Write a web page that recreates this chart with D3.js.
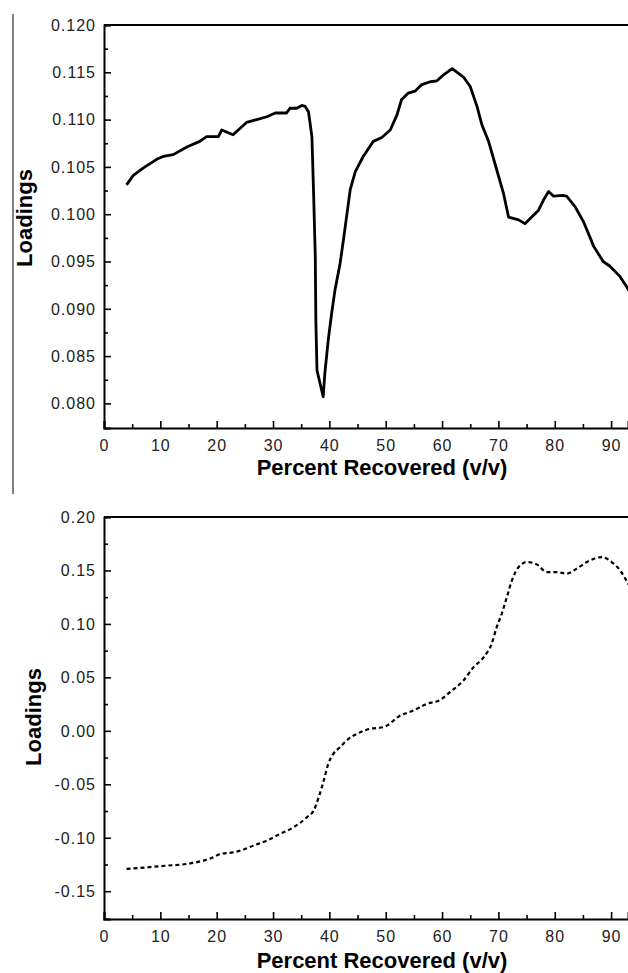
<!DOCTYPE html>
<html>
<head>
<meta charset="utf-8">
<script src="https://cdn.jsdelivr.net/npm/d3@7"></script>
<style>
  html, body { margin: 0; padding: 0; background: #fff; }
  svg { display: block; }
  .tick-label { font-family: "Liberation Sans", Arial, sans-serif; font-size: 16px; fill: #222; letter-spacing: 1px; }
  .axis-title { font-family: "Liberation Sans", Arial, sans-serif; font-size: 22px; font-weight: bold; fill: #000; }
</style>
</head>
<body>
<script>
// ---- Data ----
const xTicks = [0, 10, 20, 30, 40, 50, 60, 70, 80, 90];
const xMinorTicks = [5, 15, 25, 35, 45, 55, 65, 75, 85];

const topYTicks = [0.080, 0.085, 0.090, 0.095, 0.100, 0.105, 0.110, 0.115, 0.120];
const topYMinor = [0.0825, 0.0875, 0.0925, 0.0975, 0.1025, 0.1075, 0.1125, 0.1175];
const bottomYTicks = [-0.15, -0.10, -0.05, 0.00, 0.05, 0.10, 0.15, 0.20];
const bottomYMinor = [-0.125, -0.075, -0.025, 0.025, 0.075, 0.125, 0.175];

// Top panel: solid line (percent recovered, loading)
const topX = [4.0, 5.2, 7.0, 9.35, 10.5, 12.3, 14.7, 17.0, 18.2, 20.3, 20.9, 22.9, 25.3, 27.1, 28.9, 30.4, 32.4, 33.0, 34.2, 35.1, 35.7, 36.3, 36.9, 37.2, 37.5, 37.6, 37.8, 38.9, 39.2, 39.8, 40.4, 41.0, 41.9, 42.5, 43.7, 44.6, 46.0, 47.8, 49.3, 50.8, 52.0, 52.8, 54.0, 55.2, 56.4, 57.9, 59.1, 60.2, 61.8, 63.8, 65.0, 66.2, 67.1, 68.2, 69.7, 70.9, 71.8, 73.6, 74.7, 75.9, 77.1, 78.0, 78.9, 79.8, 81.5, 82.1, 83.6, 85.1, 86.3, 86.9, 88.6, 89.8, 91.6, 92.8, 93.5];
const topY = [0.1031, 0.1041, 0.1049, 0.1058, 0.1061, 0.1063, 0.1071, 0.1077, 0.1082, 0.1082, 0.1089, 0.1084, 0.1097, 0.1100, 0.1103, 0.1107, 0.1107, 0.1112, 0.1112, 0.1115, 0.1114, 0.1108, 0.1082, 0.1022, 0.0955, 0.0888, 0.0835, 0.0807, 0.0832, 0.0867, 0.0895, 0.0920, 0.0948, 0.0973, 0.1026, 0.1045, 0.1061, 0.1077, 0.1081, 0.1089, 0.1105, 0.1121, 0.1128, 0.1130, 0.1137, 0.1140, 0.1141, 0.1147, 0.1154, 0.1145, 0.1135, 0.1114, 0.1094, 0.1078, 0.1047, 0.1022, 0.0997, 0.0994, 0.0990, 0.0997, 0.1004, 0.1015, 0.1024, 0.1019, 0.1020, 0.1019, 0.1008, 0.0992, 0.0975, 0.0966, 0.0950, 0.0945, 0.0934, 0.0923, 0.0916];

// Bottom panel: dashed line
const botX = [4.0, 7.6, 11.1, 14.7, 17.6, 19.4, 20.6, 22.9, 24.2, 26.5, 28.9, 31.2, 33.6, 36.0, 37.2, 38.1, 39.0, 39.8, 40.7, 41.9, 43.4, 44.9, 47.2, 49.6, 52.6, 54.9, 57.3, 59.7, 61.4, 63.8, 65.6, 67.4, 68.8, 69.7, 70.6, 71.5, 72.4, 73.6, 75.1, 76.8, 78.6, 80.4, 82.1, 83.9, 85.7, 88.3, 90.1, 91.6, 92.7, 93.5];
const botY = [-0.1292, -0.1277, -0.1261, -0.1245, -0.1214, -0.1183, -0.1152, -0.1137, -0.1121, -0.1074, -0.1027, -0.0965, -0.0903, -0.0809, -0.0746, -0.0622, -0.0465, -0.0309, -0.0216, -0.0153, -0.0075, -0.0028, 0.0019, 0.0034, 0.0143, 0.0190, 0.0253, 0.0290, 0.0362, 0.0471, 0.0596, 0.0689, 0.0815, 0.0970, 0.1095, 0.1251, 0.1407, 0.1532, 0.1579, 0.1557, 0.1485, 0.1485, 0.1470, 0.1517, 0.1579, 0.1625, 0.1579, 0.1501, 0.1407, 0.1330];

const xTitle = "Percent Recovered (v/v)";
const yTitle = "Loadings";

// ---- Drawing ----
const W = 628, H = 973;
const svg = d3.select("body").append("svg").attr("width", W).attr("height", H);

// thin gray vertical rule at the far left
svg.append("line").attr("x1", 13).attr("x2", 13).attr("y1", 14).attr("y2", 494)
  .attr("stroke", "#808080").attr("stroke-width", 2);

const x = d3.scaleLinear().domain([0, 93]).range([104, 628]);

function panel(opts) {
  const y = d3.scaleLinear().domain(opts.yDomain).range([opts.yBottom, opts.yTop]);
  const g = svg.append("g");
  const clipId = "clip" + opts.id;
  svg.append("clipPath").attr("id", clipId).append("rect")
    .attr("x", 104).attr("y", opts.yTop - 5).attr("width", 628 - 104).attr("height", opts.yBottom - opts.yTop + 10);

  // line
  const data = opts.xs.map((d, i) => [d, opts.ys[i]]);
  const line = d3.line().x(d => x(d[0])).y(d => y(d[1])).curve(opts.curve);
  const path = g.append("path").datum(data)
    .attr("clip-path", `url(#${clipId})`)
    .attr("d", line).attr("fill", "none").attr("stroke", "#000")
    .attr("stroke-width", opts.sw).attr("stroke-linejoin", "round");
  if (opts.dash) path.attr("stroke-dasharray", opts.dash);

  // frame: left axis, bottom axis, top border
  g.append("line").attr("x1", 104).attr("x2", 628).attr("y1", opts.yTop).attr("y2", opts.yTop)
    .attr("stroke", "#000").attr("stroke-width", 2);

  const yAxis = d3.axisRight(y).tickValues(opts.yTicks).tickSize(7).tickFormat("");
  g.append("g").attr("transform", "translate(104,0)").call(yAxis)
    .call(s => s.select(".domain").attr("stroke-width", 2))
    .call(s => s.selectAll(".tick line").attr("stroke-width", 1.6));
  const yMinor = d3.axisRight(y).tickValues(opts.yMinor).tickSize(4).tickFormat("");
  g.append("g").attr("transform", "translate(104,0)").call(yMinor)
    .call(s => s.select(".domain").remove())
    .call(s => s.selectAll(".tick line").attr("stroke-width", 1.6));

  const xAxis = d3.axisTop(x).tickValues(xTicks).tickSize(7).tickFormat("");
  g.append("g").attr("transform", `translate(0,${opts.yBottom})`).call(xAxis)
    .call(s => s.select(".domain").attr("stroke-width", 2))
    .call(s => s.selectAll(".tick line").attr("stroke-width", 1.6));
  const xMinor = d3.axisTop(x).tickValues(xMinorTicks).tickSize(4).tickFormat("");
  g.append("g").attr("transform", `translate(0,${opts.yBottom})`).call(xMinor)
    .call(s => s.select(".domain").remove())
    .call(s => s.selectAll(".tick line").attr("stroke-width", 1.6));

  // tick labels
  g.selectAll(".ylab").data(opts.yTicks).enter().append("text")
    .attr("class", "tick-label").attr("text-anchor", "end")
    .attr("x", 96).attr("y", d => y(d)).attr("dy", "0.36em")
    .text(d => d3.format(opts.yFmt)(d).replace("−", "-"));
  g.selectAll(".xlab").data(xTicks).enter().append("text")
    .attr("class", "tick-label").attr("text-anchor", "middle")
    .attr("x", d => x(d) + 0.5).attr("y", opts.yBottom + 12).attr("dy", "0.71em")
    .text(d => d);

  // titles
  g.append("text").attr("class", "axis-title").attr("text-anchor", "middle")
    .attr("x", 382).attr("y", opts.xTitleY).text(xTitle);
  g.append("text").attr("class", "axis-title").attr("text-anchor", "middle")
    .attr("transform", `translate(${opts.yTitleX},${opts.yTitleY}) rotate(-90)`).text(yTitle);
}

panel({
  id: "top", yDomain: [0.0774, 0.120], yTop: 25, yBottom: 428,
  yTicks: topYTicks, yMinor: topYMinor, yFmt: ".3f",
  xs: topX, ys: topY, curve: d3.curveLinear, sw: 2.8, dash: null,
  xTitleY: 475, yTitleX: 32, yTitleY: 218
});

panel({
  id: "bot", yDomain: [-0.176, 0.20], yTop: 517, yBottom: 919,
  yTicks: bottomYTicks, yMinor: bottomYMinor, yFmt: ".2f",
  xs: botX, ys: botY, curve: d3.curveMonotoneX, sw: 2.2, dash: "4,3",
  xTitleY: 968, yTitleX: 41, yTitleY: 717
});
</script>
</body>
</html>
